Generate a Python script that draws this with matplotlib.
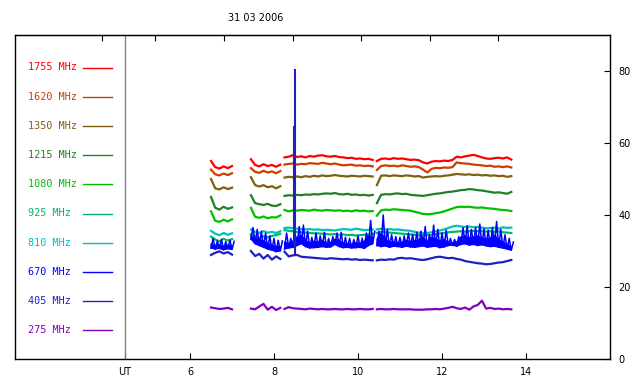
import numpy as np
import matplotlib
matplotlib.use("Agg")
import matplotlib.pyplot as plt

# observation segments (UT hours), step 0.1 h
seg_starts = [6.5, 7.45, 8.25, 10.45]
seg_counts = [6, 8, 22, 33]

labels = ["1755 MHz", "1620 MHz", "1350 MHz", "1215 MHz", "1080 MHz",
          "925 MHz", "810 MHz", "670 MHz", "405 MHz", "275 MHz"]
colors = ["#ff0000", "#c84000", "#806010", "#208020", "#00c000",
          "#00b868", "#00c0c0", "#0000ff", "#2020c0", "#8000c0"]

f1755 = [55.0, 53.3, 52.9, 53.5, 53.0, 53.6,
         55.5, 53.9, 53.5, 54.1, 53.6, 53.9, 53.4, 54.0,
         56.0, 56.2, 56.6, 56.1, 56.3, 56.0, 56.4, 56.2, 56.5, 56.6, 56.3, 56.2, 56.4, 56.1, 56.0, 55.8, 55.9, 55.6, 55.7, 55.5, 55.6, 55.3,
         55.0, 55.6, 55.7, 55.5, 55.8, 55.6, 55.7, 55.5, 55.3, 55.4, 55.2, 54.6, 54.3, 54.8, 55.0, 54.9, 55.1, 55.0, 55.3, 56.2, 56.0, 56.3, 56.5, 56.7, 56.4, 56.0, 55.7, 55.6, 55.8, 55.9, 55.7, 56.0, 55.4]
f1620 = [52.6, 51.3, 51.0, 51.5, 51.1, 51.6,
         53.0, 52.0, 51.7, 52.3, 51.8, 52.1, 51.6, 52.2,
         54.0, 54.2, 54.3, 54.0, 54.2, 54.1, 54.4, 54.3, 54.2, 54.5, 54.3, 54.1, 54.3, 54.0, 53.8, 53.9, 54.0, 53.7, 53.8, 53.6, 53.7, 53.5,
         52.5, 53.6, 53.8, 53.6, 53.7, 53.5, 53.8, 53.6, 53.4, 53.5, 53.3, 52.6, 51.8, 52.8, 53.1, 53.0, 53.2, 53.1, 53.3, 54.6, 54.4, 54.3, 54.2, 54.0, 53.9, 53.8, 53.6, 53.7, 53.4, 53.5, 53.3, 53.5, 53.2]
f1350 = [50.0, 47.4, 47.1, 47.7, 47.2, 47.6,
         50.5, 48.3, 47.9, 48.3, 47.7, 48.0, 47.4, 48.0,
         50.4, 50.6, 50.5, 50.7, 50.5, 50.8, 50.6, 50.9, 50.7, 51.0, 50.8, 50.9, 51.1, 50.9, 50.8, 50.7, 50.9, 50.8, 50.7, 50.9, 50.8, 50.7,
         48.3, 50.9, 51.0, 50.8, 51.0, 50.9, 50.8, 51.0, 50.9, 50.7, 50.8, 50.4, 50.6, 50.7, 50.8, 50.7, 50.9, 51.0, 51.2, 51.4, 51.3, 51.2, 51.3, 51.1, 51.2, 51.0, 51.1, 50.9, 51.0, 50.8, 50.9, 50.6, 50.8]
f1215 = [45.0, 42.0, 41.5, 42.3, 41.7, 42.1,
         45.5, 43.3, 43.0, 42.8, 43.1, 42.6, 42.5, 43.0,
         45.3, 45.5, 45.4, 45.6, 45.5, 45.7, 45.6, 45.8, 45.7, 45.9, 46.0, 45.9, 46.1, 45.8, 45.7, 45.9, 45.6, 45.7, 45.5, 45.6, 45.4, 45.6,
         43.3, 45.6, 45.8, 45.7, 45.9, 46.0, 45.8, 45.9, 45.6, 45.5, 45.4, 45.3, 45.5, 45.7, 45.9, 46.0, 46.2, 46.4, 46.5, 46.7, 46.9, 47.0, 47.2, 47.1, 46.9, 46.8, 46.6, 46.4, 46.2, 46.3, 46.1, 45.9, 46.4]
f1080 = [41.0, 38.4, 38.1, 38.7, 38.2, 38.8,
         42.0, 39.5, 39.2, 39.6, 39.1, 39.4, 39.3, 39.9,
         41.4, 41.0, 41.3, 41.2, 41.4, 41.3, 41.2, 41.5, 41.3, 41.2, 41.4, 41.3, 41.2, 41.3, 41.1, 41.2, 41.0, 41.3, 41.1, 41.2, 41.0, 41.1,
         39.8, 41.3, 41.5, 41.4, 41.6, 41.5, 41.4, 41.3, 41.2, 40.9, 40.6, 40.3, 40.2, 40.3, 40.5, 40.7, 41.0, 41.4, 41.8, 42.2, 42.3, 42.2, 42.3, 42.1, 42.0, 42.1, 41.9, 41.8, 41.7, 41.5, 41.4, 41.3, 41.1]
f925 = [34.0, 33.2, 32.7, 33.4, 32.9, 33.3,
        34.6, 34.0, 33.6, 34.1, 33.8, 34.2, 34.4, 34.8,
        35.8, 35.6, 35.5, 35.3, 35.2, 35.1, 35.0, 34.9, 34.9, 34.8, 34.7, 34.6, 34.7, 34.5, 34.6, 34.4, 34.5, 34.3, 34.4, 34.5, 34.6, 34.8,
        35.0, 35.3, 35.2, 35.1, 35.0, 34.9, 34.8, 34.7, 34.6, 34.5, 34.4, 34.3, 34.4, 34.5, 34.7, 34.9, 35.0, 35.2, 35.3, 35.4, 35.5, 35.4, 35.5, 35.6, 35.5, 35.6, 35.4, 35.5, 35.3, 35.4, 35.2, 35.1, 35.0]
f810 = [35.6, 34.8, 34.4, 35.0, 34.5, 34.9,
        36.0, 35.3, 35.0, 35.5, 35.1, 35.3, 35.0, 35.5,
        36.4, 36.5, 36.3, 36.2, 36.1, 36.0, 36.1, 35.9, 36.0, 35.8, 35.9, 35.8, 35.7, 35.9, 36.1, 36.0, 35.9, 36.2, 36.0, 35.8, 35.9, 36.0,
        36.0, 36.2, 36.0, 36.1, 35.9, 36.0, 35.8, 35.7, 35.6, 35.3, 35.1, 34.9, 35.0, 35.2, 35.5, 35.7, 36.0, 36.4, 36.8, 37.0, 36.8, 36.7, 36.8, 36.6, 36.7, 36.5, 36.3, 36.4, 36.5, 36.2, 36.6, 36.4, 36.5]
# 670 MHz is very noisy: lower and upper envelope
f670_lo = [30.8, 30.5, 30.7, 30.3, 30.6, 30.4,
           33.3, 32.0, 31.5, 31.0, 30.5, 30.2, 29.8, 30.0,
           30.5, 30.8, 31.0, 31.5, 32.0, 31.2, 30.8, 30.9, 31.0, 31.2, 31.0, 31.1, 31.8, 31.2, 30.9, 31.0, 30.8, 30.9, 31.0, 30.7, 31.5, 32.0,
           31.5, 31.2, 31.4, 31.0, 31.3, 31.2, 31.0, 31.3, 31.1, 31.0, 31.2, 31.4, 31.0, 31.2, 31.3, 30.9, 31.1, 31.5, 31.6, 31.3, 31.8, 32.0, 31.6, 31.8, 31.5, 31.7, 31.4, 31.2, 31.3, 31.0, 30.8, 30.5, 30.2]
f670_hi = [33.5, 32.8, 33.2, 32.6, 33.0, 32.7,
           36.5, 36.0, 35.5, 35.0, 34.2, 33.5, 33.0, 32.8,
           35.0, 33.5, 35.0, 36.8, 37.2, 35.5, 33.8, 35.0, 34.2, 35.2, 33.5, 34.0, 35.0, 35.2, 33.8, 33.5, 33.2, 34.2, 33.6, 35.0, 38.5, 35.5,
           35.5, 40.0, 36.0, 34.5, 34.0, 33.8, 34.2, 35.0, 34.6, 35.2, 35.5, 36.8, 34.5, 37.2, 36.0, 35.0, 35.8, 33.5, 33.2, 34.0, 36.5, 37.0, 36.0, 36.5, 37.5, 36.2, 35.8, 36.5, 38.2, 36.0, 34.5, 33.5, 32.5]
f405 = [28.9, 29.5, 29.9, 29.3, 29.7, 29.0,
        30.0, 28.6, 29.2, 27.9, 28.9, 27.6, 28.5, 27.8,
        29.8, 28.5, 28.8, 28.9, 28.4, 28.3, 28.2, 28.1, 28.0, 27.9, 27.8, 28.0, 27.9, 27.8, 27.7, 27.8, 27.6, 27.7, 27.5, 27.6, 27.5, 27.4,
        27.4, 27.6, 27.5, 27.7, 27.6, 28.0, 28.1, 27.9, 28.0, 27.8, 27.6, 27.5, 27.7, 28.0, 28.3, 28.4, 28.2, 28.0, 28.1, 27.8, 27.6, 27.2, 27.0, 26.8, 26.6, 26.5, 26.3, 26.4, 26.6, 26.8, 26.9, 27.2, 27.5]
f275 = [14.3, 14.1, 13.9, 14.0, 14.2, 13.8,
        14.0, 13.8, 14.6, 15.3, 13.7, 14.5, 13.6, 14.2,
        13.9, 14.4, 14.1, 14.0, 13.9, 13.8, 14.0, 13.9, 13.8, 13.9, 13.8, 13.8, 13.9, 13.8, 13.8, 13.9, 13.8, 13.8, 13.9, 13.8, 13.8, 13.9,
        13.8, 13.9, 13.8, 13.8, 13.9, 13.8, 13.8, 13.8, 13.8, 13.7, 13.7, 13.7, 13.8, 13.8, 13.9, 13.8, 14.0, 14.2, 14.5, 14.1, 13.9, 14.3, 13.7, 14.6, 15.0, 16.2, 14.0, 14.2, 13.9, 14.0, 13.8, 13.9, 13.8]

# short bursts: time, base, peak
burst_t = [8.5, 8.48]
burst_base = [28.5, 32.0]
burst_peak = [80.6, 64.7]
burst_col = ["#2020c0", "#2020c0"]

top_ticks = [3.905, 5.167, 6.81, 8.45, 10.07, 11.71, 13.33]


def with_gaps(v):
    # insert NaN between observing segments
    out = []
    i = 0
    for k, n in enumerate(seg_counts):
        out += list(v[i:i + n])
        if k < len(seg_counts) - 1:
            out.append(np.nan)
        i += n
    return np.array(out, dtype=float)


t = []
for k, (s, n) in enumerate(zip(seg_starts, seg_counts)):
    t += list(s + 0.1 * np.arange(n))
    if k < len(seg_counts) - 1:
        t.append(np.nan)
t = np.array(t)

fig = plt.figure(figsize=(6.4, 3.84), dpi=100)
ax = fig.add_axes([15 / 640, 25 / 384, 595 / 640, 324 / 384])
ax.set_xlim(1.833, 16.0)
ax.set_ylim(0, 90)

series = [f1755, f1620, f1350, f1215, f1080, f925, f810, None, f405, f275]
for vals, c in zip(series, colors):
    if vals is None:
        # noisy channel: dense core plus zigzag up to the high envelope
        lo = with_gaps(f670_lo)
        hi = with_gaps(f670_hi)
        ax.fill_between(t, lo, lo + 0.45 * (hi - lo), color=c, lw=0.8, edgecolor=c)
        tz = np.column_stack([t, t + 0.05]).ravel()
        vz = np.column_stack([lo, hi]).ravel()
        ax.plot(tz, vz, color=c, lw=1.1)
        continue
    ax.plot(t, with_gaps(vals), color=c, lw=1.6)

ax.vlines(burst_t, burst_base, burst_peak, colors=burst_col, lw=1.5)

ax.axvline(4.452, color="#808080", lw=1)

for i, (lab, c) in enumerate(zip(labels, colors)):
    ypx = 67.5 + 29.2 * i
    yf = (359 - ypx) / 324
    ax.text(13 / 595, yf, lab, color=c, transform=ax.transAxes,
            fontsize=7.3, family="DejaVu Sans Mono", va="center", ha="left")
    ax.plot([68 / 595, 97 / 595], [yf, yf], color=c, lw=1,
            transform=ax.transAxes)

ax.yaxis.tick_right()
ax.set_yticks([0, 20, 40, 60, 80])
ax.tick_params(axis="y", direction="in", length=4, labelsize=7, pad=6)
ax.set_xticks([4.452, 6, 8, 10, 12, 14], ["UT", "6", "8", "10", "12", "14"])
ax.tick_params(axis="x", direction="in", length=4, labelsize=7, pad=6)
for s in ax.spines.values():
    s.set_linewidth(1)

sec = ax.secondary_xaxis("top")
sec.set_xticks(top_ticks, labels=[""] * len(top_ticks))
sec.tick_params(direction="in", length=4)

fig.text(256 / 640, 1 - 18 / 384, "31 03 2006", fontsize=7, ha="center", va="center")

fig.savefig("out.png", dpi=100)
